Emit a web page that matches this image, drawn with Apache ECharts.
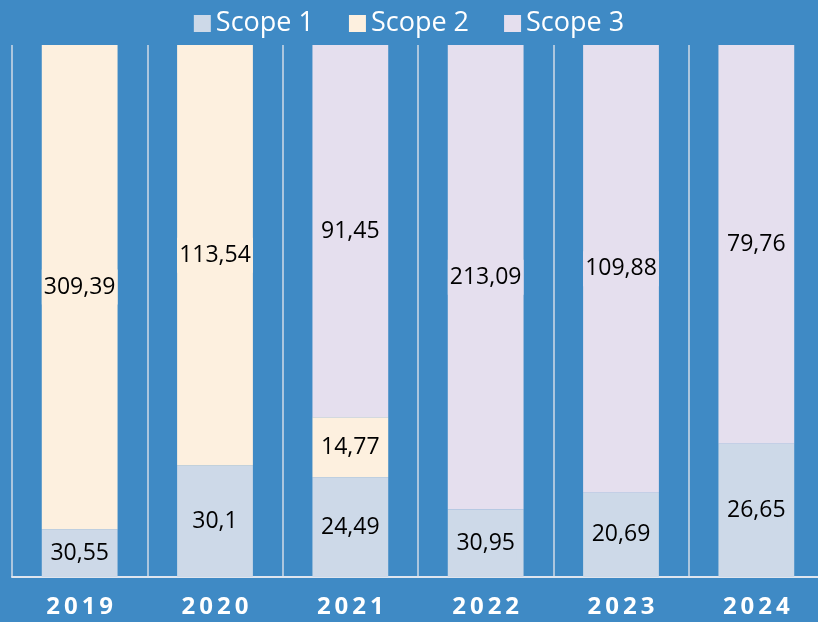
<!DOCTYPE html>
<html><head><meta charset="utf-8">
<script src="https://cdn.jsdelivr.net/npm/echarts@6/dist/echarts.min.js"></script>
<style>html,body{margin:0;padding:0;background:#3f8ac5;}#c{width:818px;height:622px;}</style>
</head><body><div id="c"></div>
<script>
const years = ['2019','2020','2021','2022','2023','2024'];
const scope1 = [30.55, 30.1, 24.49, 30.95, 20.69, 26.65];
const scope2 = [309.39, 113.54, 14.77, 0, 0, 0];
const scope3 = [0, 0, 91.45, 213.09, 109.88, 79.76];
const seriesNames = ['Scope 1','Scope 2','Scope 3'];
const colors = ['#cdd9e8','#fdf0df','#e5dfee'];

const totals = years.map((_, i) => scope1[i] + scope2[i] + scope3[i]);
const raw = [scope1, scope2, scope3];
const chart = echarts.init(document.getElementById('c'));
const series = raw.map((arr, s) => ({
  name: seriesNames[s],
  type: 'bar',
  stack: 'total',
  barCategoryGap: '44%',
  itemStyle: { color: colors[s] },
  label: {
    show: true,
    position: 'inside',
    color: '#000',
    fontFamily: 'Open Sans',
    fontSize: 23,
    backgroundColor: colors[s],
    padding: [6, 2],
    formatter: p => p.data.raw ? String(p.data.raw).replace('.', ',') : ''
  },
  data: arr.map((v, i) => ({ value: v ? v / totals[i] * 100 : null, raw: v }))
}));
chart.setOption({
  backgroundColor: '#3f8ac5',
  animation: false,
  legend: {
    top: 5,
    left: 'center',
    icon: 'rect',
    itemWidth: 17,
    itemHeight: 17,
    itemGap: 35,
    textStyle: { color: '#ffffff', fontSize: 27, fontFamily: 'Open Sans' },
    data: seriesNames
  },
  grid: { left: 12, top: 45, width: 812, height: 532, containLabel: false, outerBoundsMode: 'none' },
  xAxis: {
    type: 'category',
    data: years,
    axisLine: { show: true, lineStyle: { color: '#dfe5ee', width: 2 } },
    axisTick: { show: false },
    splitLine: { show: true, lineStyle: { color: '#d2dae6', width: 1.5 } },
    axisLabel: {
      color: '#ffffff', fontSize: 24, fontWeight: 'bold', fontFamily: 'Open Sans',
      margin: 18,
      formatter: v => v.split('').join('\u2009')
    }
  },
  yAxis: { type: 'value', min: 0, max: 100, show: false, splitLine: { show: false } },
  series: series
});
</script></body></html>
